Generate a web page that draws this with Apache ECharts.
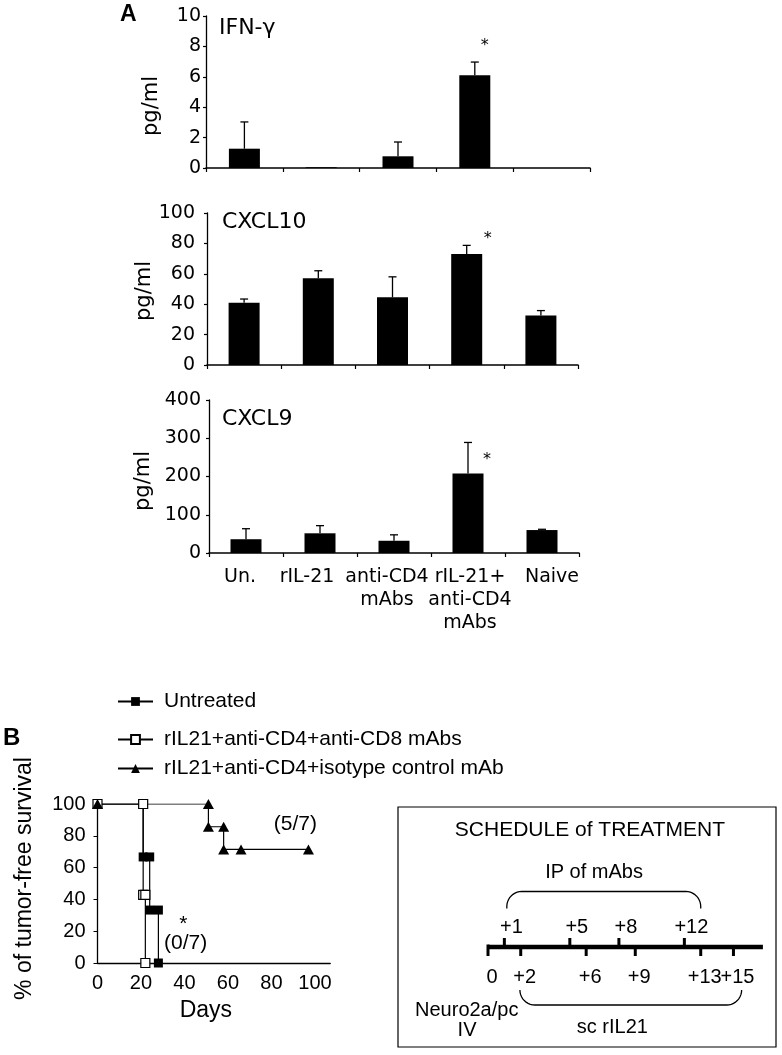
<!DOCTYPE html>
<html><head><meta charset="utf-8">
<script src="https://cdn.jsdelivr.net/npm/echarts@6/dist/echarts.min.js"></script>
<style>html,body{margin:0;padding:0;background:#fff}#c{width:782px;height:1055px}</style>
</head><body><div id="c"></div>
<script>
// ---------- Panel A data ----------
const categories = ['Un.', 'rIL-21', 'anti-CD4\nmAbs', 'rIL-21+\nanti-CD4\nmAbs', 'Naive'];
const ifnMean = [1.27, 0.05, 0.77, 6.1, 0];
const ifnErr = [1.76, 0, 0.94, 0.87, 0];
const cxcl10Mean = [41, 57, 44.5, 73, 32.5];
const cxcl10Err = [2.4, 5, 13.5, 5.7, 3.3];
const cxcl9Mean = [36, 51.5, 32, 208, 60];
const cxcl9Err = [27.5, 20, 15.5, 81, 2];
const starIfn = [3, 8.03];
const starCxcl10 = [3, 82.9];
const starCxcl9 = [3, 243];

// ---------- Panel B survival data ----------
const untreatedDays = [0, 21, 21, 24, 24, 28, 28];
const untreatedSurv = [100, 100, 66.7, 66.7, 33.3, 33.3, 0];
const cd8Days = [0, 21, 21, 22, 22];
const cd8Surv = [100, 100, 42.9, 42.9, 0];
const isoDays = [0, 51, 51, 58, 58, 66, 97];
const isoSurv = [100, 100, 85.7, 85.7, 71.4, 71.4, 71.4];
const survNoteX = [91, 39.5, 40.5];
const survNoteY = [87, 24.5, 12.6];
const survNoteText = ['(5/7)', '*', '(0/7)'];
const seriesNames = ['Untreated', 'rIL21+anti-CD4+anti-CD8 mAbs', 'rIL21+anti-CD4+isotype control mAb'];

// ---------- Schedule data ----------
const ipDays = [1, 5, 8, 12];
const ipLabels = ['+1', '+5', '+8', '+12'];
const scDays = [0, 2, 6, 9, 13, 15];
const scLabels = ['0', '+2', '+6', '+9', '+13', '+15'];
const timelineEnd = 16.8;
const ipBrace = [1.15, 13.0, 7.7, 11.1];     // x from, x to, end y, flat y
const scBrace = [1.95, 15.5, -8.6, -11.6];
const scheduleTexts = [
  [6.23, 23.4, 'SCHEDULE of TREATMENT', 21],
  [6.48, 14.9, 'IP of mAbs', 20],
  [7.6, -16.1, 'sc rIL21', 20],
  [-1.3, -12.7, 'Neuro2a/pc', 20],
  [-1.28, -16.6, 'IV', 20]
];

const FA = 'DejaVu Sans';
const FB = 'Liberation Sans';
const CAT_FS = 19;

function errSeries(idx, mean, err) {
  return {
    type: 'custom', xAxisIndex: idx, yAxisIndex: idx, silent: true, z: 3,
    data: mean.map((m, i) => [i, m, m + err[i]]),
    encode: { x: 0, y: 1 },
    renderItem: function (params, api) {
      const i = api.value(0), m = api.value(1), t = api.value(2);
      if (t - m <= 0) return null;
      const p0 = api.coord([i, m]), p1 = api.coord([i, t]);
      return { type: 'group', children: [
        { type: 'line', shape: { x1: p0[0], y1: p0[1], x2: p1[0], y2: p1[1] }, style: { stroke: '#000', lineWidth: 1.3 } },
        { type: 'line', shape: { x1: p1[0] - 4, y1: p1[1], x2: p1[0] + 4, y2: p1[1] }, style: { stroke: '#000', lineWidth: 1.3 } }
      ] };
    }
  };
}
function starSeries(idx, pos, dx) {
  return {
    type: 'custom', xAxisIndex: idx, yAxisIndex: idx, silent: true,
    data: [pos], encode: { x: 0, y: 1 },
    renderItem: function (params, api) {
      const p = api.coord([api.value(0), api.value(1)]);
      return { type: 'text', x: p[0] + dx, y: p[1], style: { text: '*', fontSize: 16, fontFamily: FA, fill: '#000', align: 'center', verticalAlign: 'middle' } };
    }
  };
}
const richCat = {
  ac: { fontFamily: FA, fontSize: CAT_FS, lineHeight: 23, color: '#000', padding: [0, 14, 0, 0] },
  un: { fontFamily: FA, fontSize: CAT_FS, lineHeight: 23, color: '#000', padding: [0, 12, 0, 0] },
  ril: { fontFamily: FA, fontSize: CAT_FS, lineHeight: 23, color: '#000', padding: [0, 26, 0, 0] },
  nv: { fontFamily: FA, fontSize: CAT_FS, lineHeight: 23, color: '#000', padding: [0, 0, 0, 20] },
  n: { fontFamily: FA, fontSize: CAT_FS, lineHeight: 23, color: '#000', padding: [0, 0, 0, 4] }
};
function catFormatter(v, i) {
  const tag = ['un', 'ril', 'ac', 'n', 'nv'][i] || 'n';
  return v.split('\n').map(s => '{' + tag + '|' + s + '}').join('\n');
}
function catAxis(idx, showLabels) {
  return {
    gridIndex: idx, type: 'category', data: categories,
    axisLine: { lineStyle: { color: '#000', width: 1.5 } },
    axisTick: { show: true, length: 4, lineStyle: { color: '#000', width: 1.2 } },
    axisLabel: { show: showLabels, interval: 0, color: '#000', fontFamily: FA, fontSize: CAT_FS, lineHeight: 23, margin: 13,
      formatter: catFormatter, rich: richCat }
  };
}
function valAxis(idx, max, interval, margin, nameGap, namePad) {
  return {
    gridIndex: idx, type: 'value', min: 0, max: max, interval: interval,
    name: 'pg/ml', nameLocation: 'middle', nameGap: nameGap,
    nameTextStyle: { color: '#000', fontFamily: FA, fontSize: 21, padding: namePad },
    axisLine: { show: true, lineStyle: { color: '#000', width: 1.3 } },
    axisTick: { show: true, length: 3, lineStyle: { color: '#000', width: 1.2 } },
    splitLine: { show: false },
    axisLabel: { color: '#000', fontFamily: FA, fontSize: 19, margin: margin }
  };
}

const chart = echarts.init(document.getElementById('c'), null, { renderer: 'canvas' });
const option = {
  animation: false,
  backgroundColor: '#fff',
  title: [
    { text: 'A', left: 120, top: 3, padding: 0, textStyle: { fontFamily: FB, fontWeight: 'bold', fontSize: 23, color: '#000' } },
    { text: 'IFN-γ', left: 219, top: 17, padding: 0, textStyle: { fontFamily: FA, fontWeight: 'normal', fontSize: 22, color: '#000' } },
    { text: 'CXCL10', left: 222, top: 211, padding: 0, textStyle: { fontFamily: FA, fontWeight: 'normal', fontSize: 22, color: '#000' } },
    { text: 'CXCL9', left: 222, top: 408, padding: 0, textStyle: { fontFamily: FA, fontWeight: 'normal', fontSize: 22, color: '#000' } },
    { text: 'B', left: 3, top: 726, padding: 0, textStyle: { fontFamily: FB, fontWeight: 'bold', fontSize: 24, color: '#000' } }
  ],
  legend: seriesNames.map((n, k) => ({
    data: [n], left: 117, top: [691, 729, 758][k], padding: 0, orient: 'vertical',
    itemWidth: 35, itemHeight: 11, selectedMode: false,
    textStyle: { fontFamily: FB, fontSize: 21, color: '#000', padding: [0, 0, 0, 6] }
  })),
  grid: [
    { left: 206, top: 16, width: 384, height: 152 },
    { left: 207, top: 213, width: 371, height: 152 },
    { left: 209, top: 400, width: 370, height: 153 },
    { left: 97.5, top: 804, width: 232.7, height: 159 },
    { left: 398, top: 807, width: 378, height: 240, show: true, borderColor: '#000', borderWidth: 1.2, backgroundColor: 'transparent' }
  ],
  xAxis: [
    catAxis(0, false), catAxis(1, false), catAxis(2, true),
    { gridIndex: 3, type: 'value', min: 0, max: 107, interval: 20,
      name: 'Days', nameLocation: 'middle', nameGap: 36,
      nameTextStyle: { color: '#000', fontFamily: FB, fontSize: 23, padding: [0, 16, 0, 0] },
      axisLine: { show: true, lineStyle: { color: '#000', width: 1.3 } },
      axisTick: { show: false }, splitLine: { show: false },
      axisLabel: { color: '#000', fontFamily: FB, fontSize: 20, margin: 10, showMaxLabel: false } },
    { gridIndex: 4, type: 'value', min: -5.5, max: 17.6, show: false }
  ],
  yAxis: [
    valAxis(0, 10, 2, 5, 44, [0, 28, 0, 0]),
    valAxis(1, 100, 20, 12, 46, [0, 4, 0, 0]),
    valAxis(2, 400, 100, 8, 55, [0, 9, 0, 0]),
    { gridIndex: 3, type: 'value', min: 0, max: 100, interval: 20,
      name: '% of tumor-free survival', nameLocation: 'middle', nameGap: 61,
      nameTextStyle: { color: '#000', fontFamily: FB, fontSize: 23, padding: [0, 0, 0, 10] },
      axisLine: { show: true, lineStyle: { color: '#000', width: 1.3 } },
      axisTick: { show: true, length: 4, lineStyle: { color: '#000' } }, splitLine: { show: false },
      axisLabel: { color: '#000', fontFamily: FB, fontSize: 20, margin: 12 } },
    { gridIndex: 4, type: 'value', min: -20, max: 28, show: false }
  ],
  series: [
    { type: 'bar', xAxisIndex: 0, yAxisIndex: 0, data: ifnMean, barWidth: 31, itemStyle: { color: '#000' }, silent: true },
    { type: 'bar', xAxisIndex: 1, yAxisIndex: 1, data: cxcl10Mean, barWidth: 31, itemStyle: { color: '#000' }, silent: true },
    { type: 'bar', xAxisIndex: 2, yAxisIndex: 2, data: cxcl9Mean, barWidth: 31, itemStyle: { color: '#000' }, silent: true },
    errSeries(0, ifnMean, ifnErr),
    errSeries(1, cxcl10Mean, cxcl10Err),
    errSeries(2, cxcl9Mean, cxcl9Err),
    starSeries(0, starIfn, 10),
    starSeries(1, starCxcl10, 21),
    starSeries(2, starCxcl9, 19),
    // survival
    { name: seriesNames[0], type: 'line', xAxisIndex: 3, yAxisIndex: 3, showAllSymbol: true,
      data: untreatedDays.map((d, i) => [d, untreatedSurv[i]]),
      symbol: 'rect', symbolSize: 9, itemStyle: { color: '#000' }, lineStyle: { color: '#000', width: 1.2 } },
    { name: seriesNames[1], type: 'line', xAxisIndex: 3, yAxisIndex: 3, showAllSymbol: true,
      data: cd8Days.map((d, i) => [d, cd8Surv[i]]),
      symbol: 'rect', symbolSize: 9, itemStyle: { color: '#fff', borderColor: '#000', borderWidth: 1.2 }, lineStyle: { color: '#000', width: 1.2 } },
    { name: seriesNames[2], type: 'line', xAxisIndex: 3, yAxisIndex: 3, showAllSymbol: true,
      data: isoDays.map((d, i) => [d, isoSurv[i]]),
      symbol: 'triangle', symbolSize: [11, 10], itemStyle: { color: '#000' }, lineStyle: { color: '#000', width: 1.2 } },
    { type: 'custom', xAxisIndex: 3, yAxisIndex: 3, silent: true,
      data: survNoteX.map((x, i) => [x, survNoteY[i]]), encode: { x: 0, y: 1 },
      renderItem: function (params, api) {
        const p = api.coord([api.value(0), api.value(1)]);
        return { type: 'text', x: p[0], y: p[1], style: { text: survNoteText[params.dataIndex], fontSize: 21, fontFamily: FB, fill: '#000', align: 'center', verticalAlign: 'middle' } };
      } },
    // schedule timeline
    { type: 'custom', xAxisIndex: 4, yAxisIndex: 4, silent: true,
      data: [[0, timelineEnd]],
      renderItem: function (params, api) {
        const a = api.coord([api.value(0), 0]), b = api.coord([api.value(1), 0]);
        return { type: 'line', shape: { x1: a[0], y1: a[1], x2: b[0], y2: b[1] }, style: { stroke: '#000', lineWidth: 4.5 } };
      } },
    { type: 'custom', xAxisIndex: 4, yAxisIndex: 4, silent: true,
      data: ipDays.map(d => [d, 0]), encode: { x: 0, y: 1 },
      renderItem: function (params, api) {
        const d = api.value(0);
        const a = api.coord([d, 0]), b = api.coord([d, 1.8]), t = api.coord([d, 4]);
        return { type: 'group', children: [
          { type: 'line', shape: { x1: a[0], y1: a[1], x2: b[0], y2: b[1] }, style: { stroke: '#000', lineWidth: 3 } },
          { type: 'text', x: t[0] + 7, y: t[1], style: { text: ipLabels[params.dataIndex], fontSize: 20, fontFamily: FB, fill: '#000', align: 'center', verticalAlign: 'middle' } }
        ] };
      } },
    { type: 'custom', xAxisIndex: 4, yAxisIndex: 4, silent: true,
      data: scDays.map(d => [d, 0]), encode: { x: 0, y: 1 },
      renderItem: function (params, api) {
        const d = api.value(0);
        const a = api.coord([d, d === 0 ? 0.5 : 0]), b = api.coord([d, -1.8]), t = api.coord([d, -6.1]);
        return { type: 'group', children: [
          { type: 'line', shape: { x1: a[0], y1: a[1], x2: b[0], y2: b[1] }, style: { stroke: '#000', lineWidth: 3 } },
          { type: 'text', x: t[0] + 4, y: t[1], style: { text: scLabels[params.dataIndex], fontSize: 20, fontFamily: FB, fill: '#000', align: 'center', verticalAlign: 'middle' } }
        ] };
      } },
    { type: 'custom', xAxisIndex: 4, yAxisIndex: 4, silent: true,
      data: [ipBrace, scBrace],
      renderItem: function (params, api) {
        const x1 = api.value(0), x2 = api.value(1), ye = api.value(2), yf = api.value(3);
        const A = api.coord([x1, ye]), B = api.coord([x2, ye]), F = api.coord([x1, yf]);
        const yF = F[1];
        const up = yF < A[1] ? 1 : -1;
        const r = 15;
        const pts = [[A[0], A[1]]];
        const c1 = [A[0] + r, yF + up * r];
        for (let k = 0; k <= 10; k++) {
          const th = Math.PI - (Math.PI / 2) * k / 10;
          pts.push([c1[0] + r * Math.cos(th), c1[1] - up * r * Math.sin(th)]);
        }
        const c2 = [B[0] - r, yF + up * r];
        for (let k = 0; k <= 10; k++) {
          const th = Math.PI / 2 - (Math.PI / 2) * k / 10;
          pts.push([c2[0] + r * Math.cos(th), c2[1] - up * r * Math.sin(th)]);
        }
        pts.push([B[0], B[1]]);
        return { type: 'polyline', shape: { points: pts }, style: { stroke: '#000', lineWidth: 1.3, fill: null } };
      } },
    { type: 'custom', xAxisIndex: 4, yAxisIndex: 4, silent: true,
      data: scheduleTexts.map(t => [t[0], t[1]]), encode: { x: 0, y: 1 },
      renderItem: function (params, api) {
        const p = api.coord([api.value(0), api.value(1)]);
        const t = scheduleTexts[params.dataIndex];
        return { type: 'text', x: p[0], y: p[1], style: { text: t[2], fontSize: t[3], fontFamily: FB, fill: '#000', align: 'center', verticalAlign: 'middle' } };
      } }
  ]
};
chart.setOption(option);
</script>
</body></html>
